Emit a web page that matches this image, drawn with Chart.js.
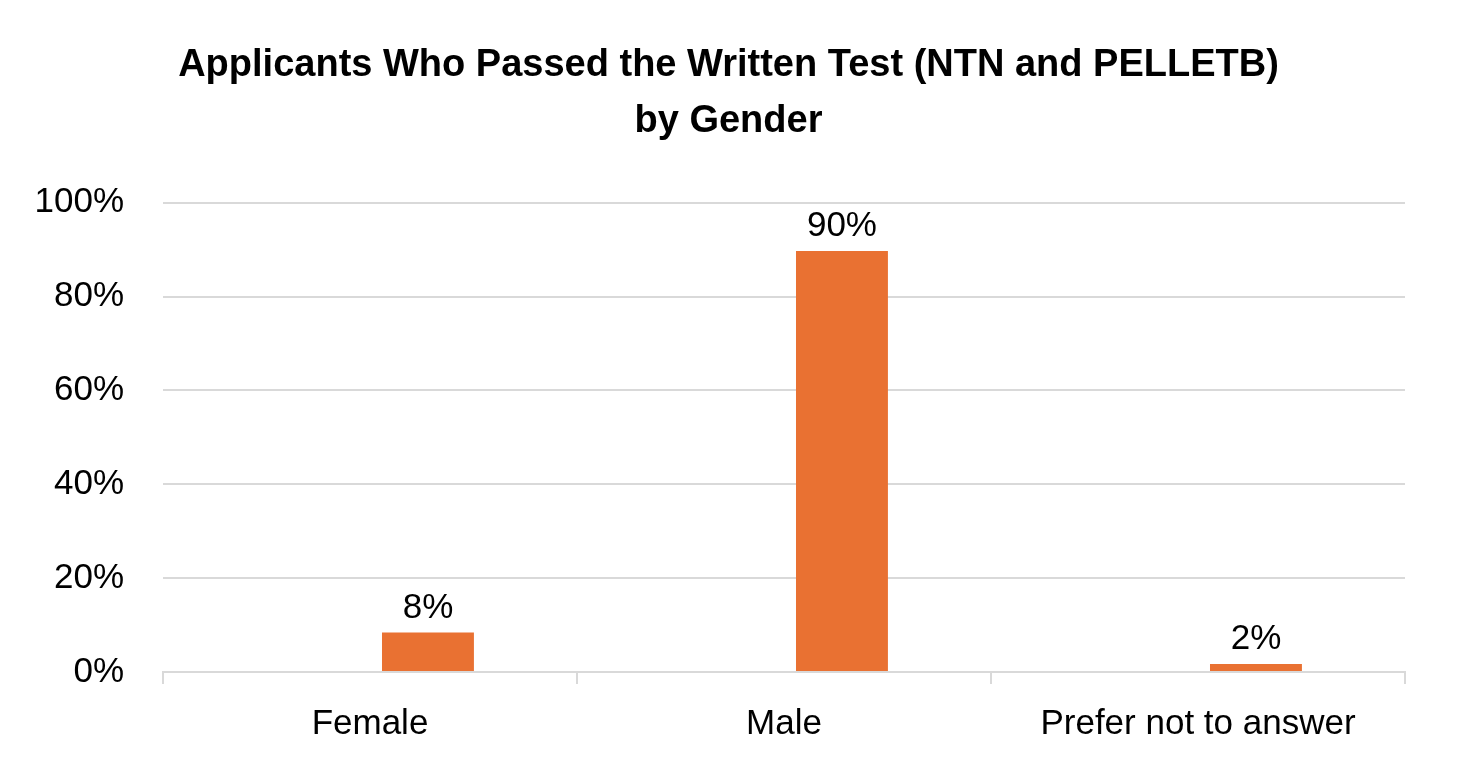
<!DOCTYPE html>
<html>
<head>
<meta charset="utf-8">
<script src="https://cdn.jsdelivr.net/npm/chart.js@4/dist/chart.umd.min.js"></script>
<style>
  html, body { margin: 0; padding: 0; background: #fff; }
  #wrap { width: 1457px; height: 783px; position: relative; }
</style>
</head>
<body>
<div id="wrap"><canvas id="myChart"></canvas></div>
<script>
// chart values
const categories = ['Female', 'Male', 'Prefer not to answer'];
const passedShare = [0.084, 0.897, 0.017];
const emptySeries = [null, null, null];
const yTicks = [0, 0.2, 0.4, 0.6, 0.8, 1];
const titleLines = ['Applicants Who Passed the Written Test (NTN and PELLETB)', 'by Gender'];

const orange = '#E97132';
const gridGray = '#D9D9D9';
const font = "'Liberation Sans', Arial, sans-serif";

// little plugin for the value labels above the bars
const barLabels = {
  id: 'barLabels',
  afterDatasetsDraw(chart) {
    const ctx = chart.ctx;
    const meta = chart.getDatasetMeta(1);
    ctx.save();
    ctx.font = '35px ' + font;
    ctx.fillStyle = '#000';
    ctx.textAlign = 'center';
    ctx.textBaseline = 'alphabetic';
    meta.data.forEach((bar, i) => {
      const v = passedShare[i];
      ctx.fillText(Math.round(v * 100) + '%', bar.x, bar.y - 15);
    });
    ctx.restore();
  }
};

function chart() {
  const data = {
    labels: categories,
    datasets: [
      {
        label: 'blank',
        data: emptySeries,
        backgroundColor: orange,
        categoryPercentage: 0.56,
        barPercentage: 0.793
      },
      {
        label: 'Passed',
        data: passedShare,
        backgroundColor: orange,
        categoryPercentage: 0.56,
        barPercentage: 0.793
      }
    ]
  };

  const config = {
    type: 'bar',
    data: data,
    plugins: [barLabels],
    options: {
      responsive: false,
      animation: false,
      layout: { padding: 0 },
      plugins: {
        legend: { display: false },
        tooltip: { enabled: false },
        title: {
          display: true,
          text: titleLines,
          color: '#000',
          font: { family: font, size: 38, weight: 'bold', lineHeight: 1.47 },
          padding: { top: 38, bottom: 53 }
        }
      },
      scales: {
        x: {
          afterFit: (s) => { s.height = 111; },
          grid: {
            offset: true,
            drawOnChartArea: false,
            drawTicks: true,
            tickLength: 12,
            color: gridGray,
            lineWidth: 2
          },
          border: { display: true, color: gridGray, width: 2 },
          ticks: {
            color: '#000',
            padding: 19,
            font: { family: font, size: 35 }
          }
        },
        y: {
          min: 0,
          max: 1,
          afterFit: (s) => { s.width = 163; },
          afterBuildTicks: (s) => { s.ticks = yTicks.map(v => ({ value: v })); },
          grid: { color: gridGray, lineWidth: 2, drawTicks: false },
          border: { display: false },
          ticks: {
            color: '#000',
            padding: 39,
            font: { family: font, size: 35 },
            callback: (v) => Math.round(v * 100) + '%'
          }
        },
        // empty right-hand axis, only to leave the blank margin on the right
        yRight: {
          position: 'right',
          min: 0,
          max: 1,
          afterFit: (s) => { s.width = 52; },
          grid: { display: false },
          border: { display: false },
          ticks: { display: false }
        }
      }
    }
  };

  const canvas = document.getElementById('myChart');
  canvas.width = 1457;
  canvas.height = 783;
  return new Chart(canvas, config);
}

document.addEventListener('DOMContentLoaded', () => chart());
</script>
</body>
</html>
